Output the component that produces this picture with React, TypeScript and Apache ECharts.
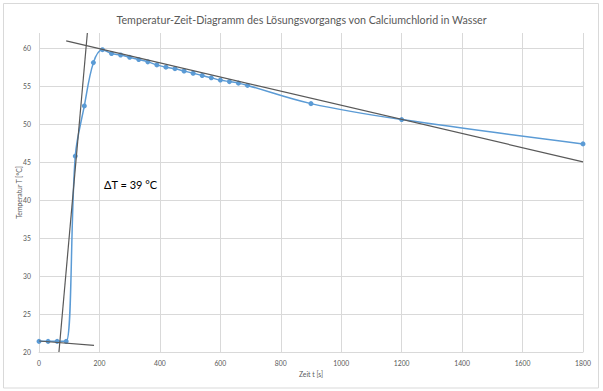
import React, { useEffect, useRef } from "react";
import * as echarts from "echarts";

const times = [0, 30, 60, 90, 120, 150, 180, 210, 240, 270, 300, 330, 360, 390, 420, 450, 480, 510, 540, 570, 600, 630, 660, 690, 900, 1200, 1800];
const temps = [21.4, 21.4, 21.4, 21.4, 45.8, 52.4, 58.1, 59.8, 59.3, 59.1, 58.8, 58.5, 58.2, 57.8, 57.5, 57.3, 57.0, 56.7, 56.4, 56.1, 55.8, 55.6, 55.4, 55.1, 52.7, 50.6, 47.4];

const baseLine = [[0, 21.45], [182, 20.88]];
const riseLine = [[66, 20], [160, 62]];
const coolLine = [[90, 60.96], [1800, 45.04]];

const xTicks = { min: 0, max: 1800, interval: 200 };
const yTicks = { min: 20, max: 62, interval: 5 };

const titleText = "Temperatur-Zeit-Diagramm des Lösungsvorgangs von Calciumchlorid in Wasser";
const xName = "Zeit t [s]";
const yName = "Temperatur T [°C]";
const deltaLabel = "ΔT = 39 °C";

const FONT = "Lato, 'Noto Sans', sans-serif";

export default function App() {
  const ref = useRef<HTMLDivElement>(null);
  useEffect(() => {
    if (!ref.current) return;
    const chart = echarts.init(ref.current, undefined, { renderer: "svg" });
    const data = times.map((t, i) => [t, temps[i]]);
    const trendStyle = { color: "#595959", width: 1.2 };
    chart.setOption({
      animation: false,
      backgroundColor: "#fff",
      textStyle: { fontFamily: FONT },
      title: {
        text: titleText,
        left: "center",
        top: 9,
        textStyle: { fontSize: 10.7, fontWeight: "normal", color: "#595959", fontFamily: FONT },
      },
      grid: { left: 39, right: 20, top: 33, bottom: 39, containLabel: false },
      xAxis: {
        type: "value",
        min: xTicks.min,
        max: xTicks.max,
        interval: xTicks.interval,
        name: xName,
        nameLocation: "middle",
        nameGap: 18,
        nameMoveOverlap: false,
        nameTextStyle: { fontSize: 6.8, color: "#595959", fontFamily: FONT },
        axisLine: { show: true, lineStyle: { color: "#d9d9d9" } },
        axisTick: { show: false },
        axisLabel: { fontSize: 6.8, color: "#595959", margin: 7, fontFamily: FONT, formatter: (v: number) => String(v) },
        splitLine: { show: true, lineStyle: { color: "#d9d9d9", width: 1 } },
      },
      yAxis: {
        type: "value",
        min: yTicks.min,
        max: yTicks.max,
        interval: yTicks.interval,
        name: yName,
        nameLocation: "middle",
        nameGap: 17,
        nameMoveOverlap: false,
        nameTextStyle: { fontSize: 6.8, color: "#595959", fontFamily: FONT },
        axisLine: { show: false },
        axisTick: { show: false },
        axisLabel: {
          fontSize: 6.8,
          color: "#595959",
          margin: 8,
          fontFamily: FONT,
          formatter: (v: number) => (v % 5 === 0 ? String(v) : ""),
        },
        splitLine: { show: true, showMaxLine: false, lineStyle: { color: "#d9d9d9", width: 1 } },
      },
      series: [
        {
          type: "line",
          data,
          smooth: 0.35,
          symbol: "circle",
          symbolSize: 5,
          lineStyle: { color: "#5b9bd5", width: 1.5 },
          itemStyle: { color: "#5b9bd5" },
          z: 2,
        },
        { type: "line", data: baseLine, symbol: "none", lineStyle: trendStyle, z: 3, silent: true },
        { type: "line", data: riseLine, symbol: "none", lineStyle: trendStyle, z: 3, silent: true },
        { type: "line", data: coolLine, symbol: "none", lineStyle: trendStyle, z: 3, silent: true },
      ],
      graphic: [
        {
          type: "rect",
          shape: { x: 3.5, y: 3.5, width: 595, height: 384.5 },
          style: { fill: "none", stroke: "#d9d9d9", lineWidth: 1 },
          silent: true,
        },
        {
          type: "text",
          left: 104,
          top: 179,
          style: { text: deltaLabel, fontSize: 11, fill: "#000", fontFamily: FONT },
        },
      ],
    });
    return () => chart.dispose();
  }, []);
  return <div ref={ref} style={{ position: "absolute", left: 0, top: 0, width: 603, height: 391 }} />;
}
